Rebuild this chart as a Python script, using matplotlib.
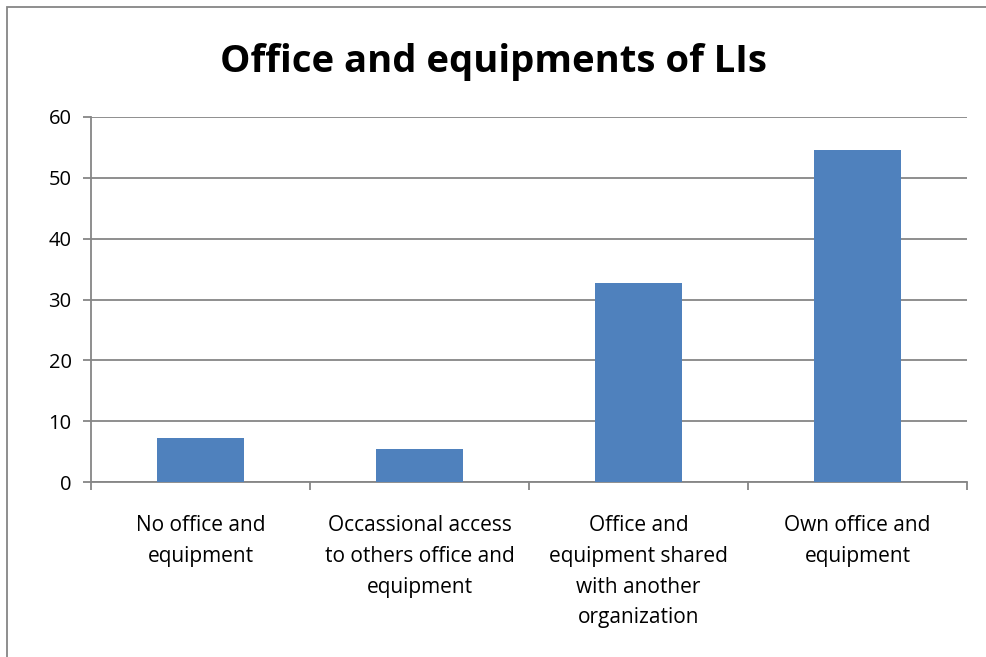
import matplotlib.pyplot as plt
from matplotlib.patches import Rectangle

categories = [
    "No office and\nequipment",
    "Occassional access\nto others office and\nequipment",
    "Office and\nequipment shared\nwith another\norganization",
    "Own office and\nequipment",
]
values = [7.27, 5.45, 32.73, 54.55]
y_ticks = [0, 10, 20, 30, 40, 50, 60]

plt.rcParams['font.family'] = ['Open Sans', 'DejaVu Sans']

fig = plt.figure(figsize=(9.87, 6.57), dpi=100)
ax = fig.add_axes([91 / 987, 1 - 482 / 657, (967 - 91) / 987, (482 - 117) / 657])

grey = '#868686'
x = list(range(len(categories)))
ax.bar(x, values, width=0.4, color='#4F81BD', zorder=3)

ax.set_xlim(-0.5, len(categories) - 0.5)
ax.set_ylim(0, 60)
ax.set_yticks(y_ticks)
ax.set_yticklabels([str(t) for t in y_ticks], fontsize=14.5)
ax.yaxis.grid(True, color=grey, linewidth=1.3, zorder=0)

# category boundaries carry the x tick marks, labels sit at the centres
ax.set_xticks([i - 0.5 for i in range(len(categories) + 1)])
ax.set_xticklabels([])
ax.tick_params(axis='x', length=6, width=1.3, color=grey, direction='out')
ax.tick_params(axis='y', length=6, width=1.3, color=grey, direction='out', pad=8)
for i, lab in enumerate(categories):
    ax.text(i, -5.5, lab, ha='center', va='top', fontsize=15, linespacing=1.6)

for side in ['top', 'right']:
    ax.spines[side].set_visible(False)
for side in ['left', 'bottom']:
    ax.spines[side].set_color(grey)
    ax.spines[side].set_linewidth(1.3)

fig.text(0.5, 1 - 62 / 657, "Office and equipments of LIs", ha='center', va='center',
         fontsize=27.5, fontweight='bold')

# outer chart frame
fig.patches.append(Rectangle((7 / 987, -0.01), 1.0, 1 - 7 / 657 + 0.01,
                             transform=fig.transFigure, fill=False,
                             edgecolor=grey, linewidth=1.3))

fig.savefig('out.png', dpi=100)
